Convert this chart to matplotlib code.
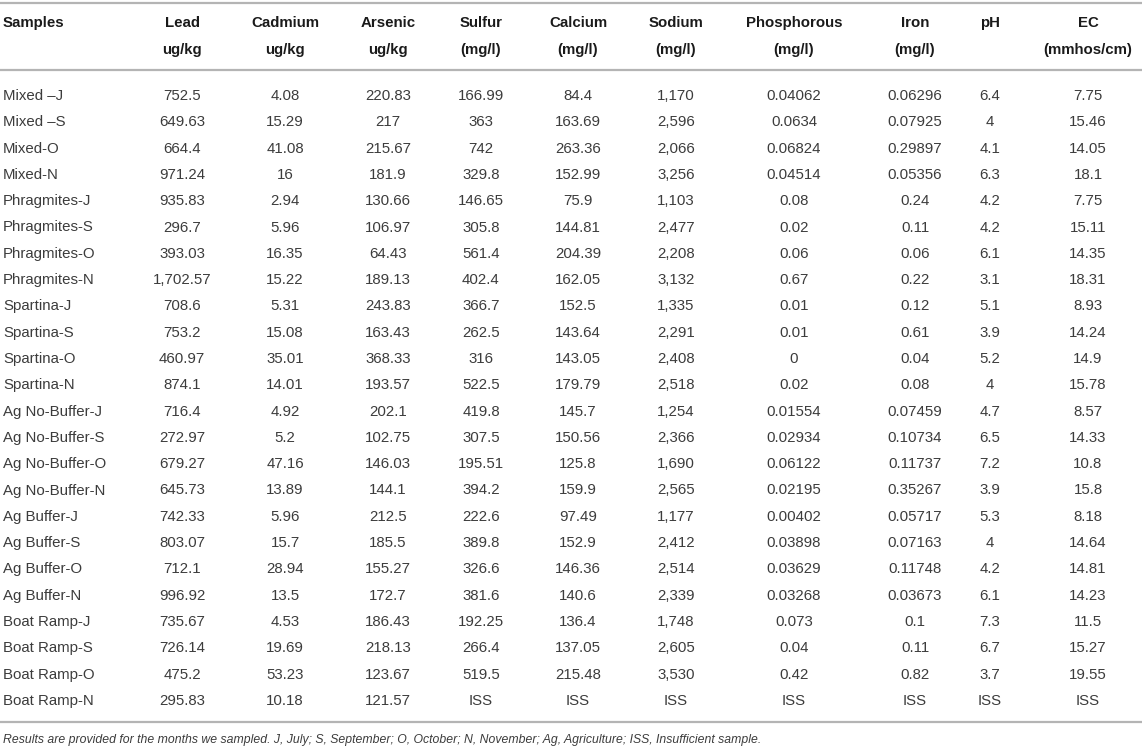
import matplotlib
matplotlib.use("Agg")
import matplotlib.pyplot as plt

plt.rcParams['font.family'] = ['Liberation Sans', 'DejaVu Sans']

samples = ["Mixed \u2013J", "Mixed \u2013S", "Mixed-O", "Mixed-N",
           "Phragmites-J", "Phragmites-S", "Phragmites-O", "Phragmites-N",
           "Spartina-J", "Spartina-S", "Spartina-O", "Spartina-N",
           "Ag No-Buffer-J", "Ag No-Buffer-S", "Ag No-Buffer-O", "Ag No-Buffer-N",
           "Ag Buffer-J", "Ag Buffer-S", "Ag Buffer-O", "Ag Buffer-N",
           "Boat Ramp-J", "Boat Ramp-S", "Boat Ramp-O", "Boat Ramp-N"]

headers = [("Samples", ""), ("Lead", "ug/kg"), ("Cadmium", "ug/kg"), ("Arsenic", "ug/kg"),
           ("Sulfur", "(mg/l)"), ("Calcium", "(mg/l)"), ("Sodium", "(mg/l)"),
           ("Phosphorous", "(mg/l)"), ("Iron", "(mg/l)"), ("pH", ""), ("EC", "(mmhos/cm)")]

lead = ["752.5", "649.63", "664.4", "971.24", "935.83", "296.7", "393.03", "1,702.57",
        "708.6", "753.2", "460.97", "874.1", "716.4", "272.97", "679.27", "645.73",
        "742.33", "803.07", "712.1", "996.92", "735.67", "726.14", "475.2", "295.83"]
cadmium = ["4.08", "15.29", "41.08", "16", "2.94", "5.96", "16.35", "15.22",
           "5.31", "15.08", "35.01", "14.01", "4.92", "5.2", "47.16", "13.89",
           "5.96", "15.7", "28.94", "13.5", "4.53", "19.69", "53.23", "10.18"]
arsenic = ["220.83", "217", "215.67", "181.9", "130.66", "106.97", "64.43", "189.13",
           "243.83", "163.43", "368.33", "193.57", "202.1", "102.75", "146.03", "144.1",
           "212.5", "185.5", "155.27", "172.7", "186.43", "218.13", "123.67", "121.57"]
sulfur = ["166.99", "363", "742", "329.8", "146.65", "305.8", "561.4", "402.4",
          "366.7", "262.5", "316", "522.5", "419.8", "307.5", "195.51", "394.2",
          "222.6", "389.8", "326.6", "381.6", "192.25", "266.4", "519.5", "ISS"]
calcium = ["84.4", "163.69", "263.36", "152.99", "75.9", "144.81", "204.39", "162.05",
           "152.5", "143.64", "143.05", "179.79", "145.7", "150.56", "125.8", "159.9",
           "97.49", "152.9", "146.36", "140.6", "136.4", "137.05", "215.48", "ISS"]
sodium = ["1,170", "2,596", "2,066", "3,256", "1,103", "2,477", "2,208", "3,132",
          "1,335", "2,291", "2,408", "2,518", "1,254", "2,366", "1,690", "2,565",
          "1,177", "2,412", "2,514", "2,339", "1,748", "2,605", "3,530", "ISS"]
phosphorous = ["0.04062", "0.0634", "0.06824", "0.04514", "0.08", "0.02", "0.06", "0.67",
               "0.01", "0.01", "0", "0.02", "0.01554", "0.02934", "0.06122", "0.02195",
               "0.00402", "0.03898", "0.03629", "0.03268", "0.073", "0.04", "0.42", "ISS"]
iron = ["0.06296", "0.07925", "0.29897", "0.05356", "0.24", "0.11", "0.06", "0.22",
        "0.12", "0.61", "0.04", "0.08", "0.07459", "0.10734", "0.11737", "0.35267",
        "0.05717", "0.07163", "0.11748", "0.03673", "0.1", "0.11", "0.82", "ISS"]
ph = ["6.4", "4", "4.1", "6.3", "4.2", "4.2", "6.1", "3.1",
      "5.1", "3.9", "5.2", "4", "4.7", "6.5", "7.2", "3.9",
      "5.3", "4", "4.2", "6.1", "7.3", "6.7", "3.7", "ISS"]
ec = ["7.75", "15.46", "14.05", "18.1", "7.75", "15.11", "14.35", "18.31",
      "8.93", "14.24", "14.9", "15.78", "8.57", "14.33", "10.8", "15.8",
      "8.18", "14.64", "14.81", "14.23", "11.5", "15.27", "19.55", "ISS"]

footnote = ("Results are provided for the months we sampled. J, July; S, September; "
            "O, October; N, November; Ag, Agriculture; ISS, Insufficient sample.")

columns = [samples, lead, cadmium, arsenic, sulfur, calcium, sodium,
           phosphorous, iron, ph, ec]

W, H = 1142, 749
fig = plt.figure(figsize=(W / 100, H / 100), dpi=100)
ax = fig.add_axes([0, 0, 1, 1])
ax.set_xlim(0, W)
ax.set_ylim(H, 0)
ax.axis('off')

col_x = [3, 182, 285, 388, 481, 578, 676, 794, 915, 990, 1088]
fs = 10.8
line_color = '#b4b4b4'
hdr_color = '#1a1a1a'
txt_color = '#3c3c3c'

# rules
for y in (3, 70, 722):
    ax.plot([0, W], [y, y], color=line_color, lw=1.6, solid_capstyle='butt')

# headers
for j, (h1, h2) in enumerate(headers):
    ha = 'left' if j == 0 else 'center'
    ax.text(col_x[j], 23, h1, ha=ha, va='center', fontsize=fs,
            fontweight='bold', color=hdr_color)
    if h2:
        ax.text(col_x[j], 50, h2, ha=ha, va='center', fontsize=fs,
                fontweight='bold', color=hdr_color)

# body
y0, dy = 96, 26.3
for j, col in enumerate(columns):
    ha = 'left' if j == 0 else 'center'
    for i, val in enumerate(col):
        ax.text(col_x[j], y0 + i * dy, val, ha=ha, va='center', fontsize=fs,
                color=txt_color)

ax.text(3, 740, footnote, ha='left', va='center', fontsize=8.8,
        style='italic', color=txt_color)

fig.savefig('out.png', dpi=100)
